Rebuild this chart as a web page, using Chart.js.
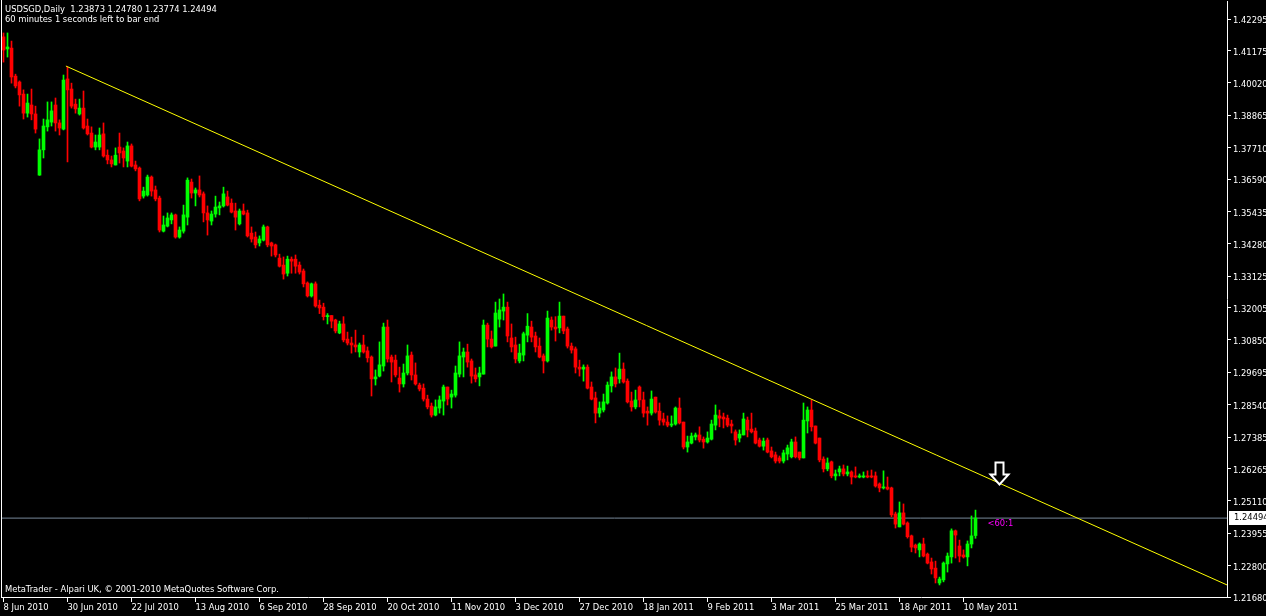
<!DOCTYPE html>
<html>
<head>
<meta charset="utf-8">
<title>USDSGD,Daily</title>
<script src="https://cdn.jsdelivr.net/npm/chart.js@4.4.0/dist/chart.umd.min.js"></script>
<style>
  html, body { margin: 0; padding: 0; background: #000; overflow: hidden; }
</style>
</head>
<body>
<canvas id="chart" width="1266" height="616"></canvas>
<script>
// texts of the terminal window
const symbolTitle = "USDSGD,Daily";
const timerText = "60 minutes 1 seconds left to bar end";
const copyrightText = "MetaTrader - Alpari UK, \u00a9 2001-2010 MetaQuotes Software Corp.";
const timerLabel = "<60:1";

// daily bars, 8 Jun 2010 .. 13 May 2011
const opens = [
  1.4166,1.4123,1.4126,1.4026,1.4005,1.3962,1.3894,1.3923,1.3891,1.3673,1.3763,1.3845,
  1.3862,1.3923,1.3859,1.3837,1.4016,1.3980,1.3926,1.3891,1.3912,1.3848,1.3823,1.3773,
  1.3773,1.3820,1.3744,1.3727,1.3709,1.3773,1.3759,1.3723,1.3777,1.3709,1.3698,1.3598,
  1.3602,1.3666,1.3620,1.3591,1.3473,1.3491,1.3513,1.3531,1.3452,1.3473,1.3523,1.3648,
  1.3609,1.3620,1.3606,1.3538,1.3509,1.3534,1.3556,1.3563,1.3595,1.3573,1.3545,1.3499,
  1.3545,1.3538,1.3466,1.3452,1.3431,1.3441,1.3488,1.3431,1.3424,1.3377,1.3352,1.3323,
  1.3373,1.3373,1.3352,1.3331,1.3288,1.3242,1.3285,1.3209,1.3202,1.3168,1.3172,1.3156,
  1.3110,1.3142,1.3088,1.3074,1.3067,1.3042,1.3067,1.3046,1.3024,1.2946,1.2956,1.2992,
  1.3131,1.3024,1.3013,1.2949,1.2928,1.2967,1.3031,1.2960,1.2924,1.2913,1.2874,1.2849,
  1.2817,1.2842,1.2867,1.2917,1.2881,1.2888,1.2963,1.3024,1.3042,1.3010,1.2960,1.2953,
  1.2963,1.3138,1.3088,1.3063,1.3159,1.3188,1.3202,1.3092,1.3067,1.3010,1.3031,1.3102,
  1.3131,1.3099,1.3063,1.3028,1.3010,1.3156,1.3131,1.3128,1.3170,1.3124,1.3063,1.3053,
  1.2988,1.2981,1.2988,1.2917,1.2878,1.2824,1.2835,1.2860,1.2921,1.2953,1.2946,1.2981,
  1.2938,1.2867,1.2846,1.2917,1.2871,1.2831,1.2824,1.2881,1.2831,1.2803,1.2792,1.2781,
  1.2785,1.2842,1.2792,1.2703,1.2717,1.2739,1.2746,1.2731,1.2721,1.2731,1.2781,1.2814,
  1.2810,1.2806,1.2785,1.2757,1.2735,1.2746,1.2799,1.2767,1.2760,1.2728,1.2706,1.2728,
  1.2689,1.2675,1.2664,1.2653,1.2678,1.2668,1.2721,1.2685,1.2664,1.2796,1.2835,1.2778,
  1.2735,1.2660,1.2625,1.2650,1.2600,1.2614,1.2625,1.2607,1.2614,1.2600,1.2596,1.2596,
  1.2600,1.2600,1.2600,1.2571,1.2557,1.2560,1.2557,1.2464,1.2418,1.2468,1.2432,1.2386,
  1.2353,1.2336,1.2357,1.2321,1.2293,1.2271,1.2218,1.2229,1.2286,1.2311,1.2404,1.2350,
  1.2318,1.2311,1.2357,1.23873
];
const highs = [
  1.4180,1.4180,1.4151,1.4033,1.4009,1.3977,1.3962,1.3980,1.3919,1.3802,1.3873,1.3934,
  1.3934,1.3948,1.3870,1.4030,1.4059,1.4001,1.3944,1.3944,1.3973,1.3873,1.3845,1.3816,
  1.3841,1.3859,1.3763,1.3741,1.3770,1.3823,1.3770,1.3791,1.3784,1.3723,1.3702,1.3630,
  1.3673,1.3670,1.3634,1.3598,1.3527,1.3538,1.3538,1.3534,1.3488,1.3566,1.3663,1.3659,
  1.3627,1.3670,1.3613,1.3563,1.3545,1.3598,1.3577,1.3630,1.3616,1.3588,1.3573,1.3552,
  1.3570,1.3548,1.3488,1.3470,1.3456,1.3495,1.3491,1.3434,1.3427,1.3391,1.3381,1.3384,
  1.3381,1.3388,1.3363,1.3338,1.3292,1.3288,1.3292,1.3227,1.3216,1.3179,1.3172,1.3159,
  1.3152,1.3168,1.3113,1.3095,1.3120,1.3074,1.3102,1.3060,1.3028,1.2978,1.3078,1.3145,
  1.3156,1.3031,1.3031,1.2988,1.2999,1.3067,1.3042,1.3003,1.2931,1.2928,1.2888,1.2860,
  1.2871,1.2885,1.2924,1.2917,1.2906,1.2992,1.3078,1.3056,1.3070,1.3017,1.2985,1.2988,
  1.3156,1.3145,1.3117,1.3220,1.3231,1.3249,1.3220,1.3142,1.3095,1.3070,1.3113,1.3179,
  1.3152,1.3113,1.3092,1.3035,1.3188,1.3167,1.3168,1.3220,1.3170,1.3131,1.3074,1.3060,
  1.3013,1.2996,1.2996,1.2935,1.2899,1.2864,1.2892,1.2935,1.2971,1.2985,1.3038,1.3003,
  1.2946,1.2899,1.2906,1.2921,1.2899,1.2846,1.2903,1.2881,1.2860,1.2824,1.2814,1.2814,
  1.2846,1.2878,1.2792,1.2742,1.2753,1.2753,1.2775,1.2739,1.2757,1.2799,1.2853,1.2835,
  1.2824,1.2817,1.2799,1.2764,1.2764,1.2824,1.2810,1.2824,1.2771,1.2735,1.2735,1.2735,
  1.2703,1.2685,1.2671,1.2692,1.2710,1.2731,1.2739,1.2685,1.2860,1.2846,1.2871,1.2778,
  1.2735,1.2668,1.2664,1.2653,1.2621,1.2635,1.2639,1.2635,1.2618,1.2632,1.2607,1.2614,
  1.2618,1.2621,1.2614,1.2575,1.2618,1.2596,1.2560,1.2471,1.2507,1.2500,1.2436,1.2389,
  1.2357,1.2361,1.2378,1.2325,1.2307,1.2296,1.2239,1.2293,1.2325,1.2411,1.2407,1.2371,
  1.2336,1.2368,1.2457,1.24780
];
const lows = [
  1.4076,1.4094,1.4001,1.3984,1.3919,1.3873,1.3880,1.3870,1.3823,1.3672,1.3734,1.3830,
  1.3848,1.3830,1.3816,1.3834,1.3720,1.3912,1.3894,1.3887,1.3837,1.3816,1.3770,1.3763,
  1.3763,1.3737,1.3713,1.3702,1.3709,1.3716,1.3702,1.3702,1.3702,1.3688,1.3581,1.3591,
  1.3598,1.3598,1.3581,1.3470,1.3470,1.3488,1.3499,1.3448,1.3448,1.3466,1.3495,1.3591,
  1.3563,1.3595,1.3506,1.3459,1.3495,1.3523,1.3531,1.3559,1.3563,1.3538,1.3477,1.3495,
  1.3531,1.3452,1.3434,1.3413,1.3420,1.3438,1.3417,1.3384,1.3381,1.3345,1.3302,1.3313,
  1.3323,1.3323,1.3320,1.3274,1.3238,1.3238,1.3202,1.3179,1.3156,1.3142,1.3128,1.3110,
  1.3107,1.3078,1.3067,1.3038,1.3042,1.3024,1.3038,1.3006,1.2885,1.2924,1.2953,1.2974,
  1.3006,1.2935,1.2953,1.2899,1.2917,1.2960,1.2942,1.2924,1.2903,1.2867,1.2839,1.2810,
  1.2814,1.2824,1.2817,1.2853,1.2842,1.2881,1.2953,1.2953,1.2988,1.2931,1.2935,1.2921,
  1.2963,1.3060,1.3056,1.3063,1.3131,1.3156,1.3078,1.3042,1.3003,1.3003,1.3010,1.3078,
  1.3078,1.3042,1.3021,1.2967,1.3006,1.3120,1.3081,1.3110,1.3107,1.3056,1.3038,1.2967,
  1.2956,1.2938,1.2910,1.2871,1.2789,1.2810,1.2828,1.2856,1.2899,1.2917,1.2931,1.2931,
  1.2860,1.2831,1.2839,1.2846,1.2810,1.2781,1.2817,1.2824,1.2781,1.2781,1.2775,1.2775,
  1.2781,1.2785,1.2696,1.2685,1.2714,1.2728,1.2721,1.2699,1.2717,1.2728,1.2764,1.2775,
  1.2771,1.2775,1.2753,1.2710,1.2721,1.2746,1.2739,1.2753,1.2714,1.2703,1.2692,1.2682,
  1.2664,1.2646,1.2646,1.2646,1.2657,1.2664,1.2664,1.2657,1.2664,1.2753,1.2760,1.2714,
  1.2650,1.2614,1.2618,1.2593,1.2585,1.2600,1.2600,1.2600,1.2571,1.2593,1.2593,1.2593,
  1.2593,1.2593,1.2560,1.2543,1.2553,1.2550,1.2454,1.2414,1.2418,1.2425,1.2378,1.2329,
  1.2325,1.2311,1.2311,1.2286,1.2250,1.2218,1.2211,1.2222,1.2257,1.2289,1.2307,1.2293,
  1.2307,1.2279,1.2343,1.23774
];
const closes = [
  1.4119,1.4130,1.4023,1.3991,1.3959,1.3894,1.3930,1.3891,1.3837,1.3763,1.3848,1.3870,
  1.3902,1.3859,1.3841,1.4012,1.3977,1.3919,1.3909,1.3912,1.3841,1.3820,1.3773,1.3791,
  1.3816,1.3741,1.3727,1.3713,1.3744,1.3752,1.3734,1.3777,1.3705,1.3695,1.3588,1.3616,
  1.3666,1.3616,1.3588,1.3477,1.3495,1.3520,1.3531,1.3452,1.3477,1.3531,1.3655,1.3609,
  1.3620,1.3602,1.3538,1.3513,1.3534,1.3559,1.3563,1.3606,1.3566,1.3541,1.3523,1.3545,
  1.3534,1.3456,1.3445,1.3424,1.3445,1.3488,1.3424,1.3420,1.3388,1.3348,1.3320,1.3373,
  1.3366,1.3348,1.3327,1.3285,1.3242,1.3285,1.3206,1.3199,1.3168,1.3172,1.3152,1.3117,
  1.3142,1.3085,1.3074,1.3067,1.3060,1.3067,1.3042,1.3021,1.2946,1.2953,1.2996,1.3131,
  1.3017,1.3006,1.2960,1.2928,1.2967,1.3028,1.2960,1.2928,1.2910,1.2874,1.2846,1.2817,
  1.2846,1.2871,1.2917,1.2874,1.2892,1.2967,1.3028,1.3042,1.3006,1.2956,1.2946,1.2967,
  1.3138,1.3088,1.3060,1.3181,1.3192,1.3202,1.3099,1.3060,1.3017,1.3038,1.3107,1.3134,
  1.3095,1.3060,1.3024,1.3010,1.3163,1.3131,1.3124,1.3170,1.3117,1.3063,1.3049,1.2988,
  1.2981,1.2988,1.2913,1.2874,1.2824,1.2842,1.2864,1.2924,1.2953,1.2928,1.2981,1.2935,
  1.2864,1.2846,1.2871,1.2871,1.2824,1.2824,1.2874,1.2828,1.2799,1.2792,1.2781,1.2785,
  1.2842,1.2789,1.2703,1.2721,1.2742,1.2746,1.2728,1.2721,1.2735,1.2785,1.2817,1.2806,
  1.2803,1.2781,1.2778,1.2728,1.2749,1.2803,1.2764,1.2757,1.2717,1.2706,1.2724,1.2685,
  1.2668,1.2653,1.2653,1.2682,1.2700,1.2721,1.2668,1.2664,1.2799,1.2835,1.2775,1.2717,
  1.2657,1.2625,1.2646,1.2600,1.2607,1.2625,1.2607,1.2614,1.2596,1.2596,1.2600,1.2600,
  1.2596,1.2596,1.2564,1.2557,1.2560,1.2553,1.2461,1.2428,1.2468,1.2428,1.2383,1.2346,
  1.2343,1.2357,1.2314,1.2289,1.2268,1.2236,1.2232,1.2289,1.2314,1.2404,1.2389,1.2314,
  1.2311,1.2357,1.2386,1.24494
];

// time axis: one label every 16 bars
const dateTicks = [0, 16, 32, 48, 64, 80, 96, 112, 128, 144, 160, 176, 192, 208, 224, 240];
const dateLabels = ["8 Jun 2010", "30 Jun 2010", "22 Jul 2010", "13 Aug 2010", "6 Sep 2010",
  "28 Sep 2010", "20 Oct 2010", "11 Nov 2010", "3 Dec 2010", "27 Dec 2010", "18 Jan 2011",
  "9 Feb 2011", "3 Mar 2011", "25 Mar 2011", "18 Apr 2011", "10 May 2011"];

// price axis labels
const priceTicks = [1.42295, 1.41175, 1.40020, 1.38865, 1.37710, 1.36590, 1.35435, 1.34280,
  1.33125, 1.32005, 1.30850, 1.29695, 1.28540, 1.27385, 1.26265, 1.25110, 1.23955, 1.22800, 1.21680];

// trend line (bar, price) and arrow / timer objects
const trendBars = [15.6, 305.875];
const trendPrices = [1.4062, 1.2211];
const arrowBar = 248.9;
const arrowPrice = 1.26495;
const timerBar = 246;

const X_MIN = -0.375, X_MAX = 305.875;
const Y_MIN = 1.2168, Y_MAX = 1.4294;
const FONT = "DejaVu Sans";
const FONT_SIZE = 8.4;

const lastClose = closes[closes.length - 1];
const candleColor = ctx => closes[ctx.dataIndex] >= opens[ctx.dataIndex] ? '#00ff00' : '#ff0000';

// рамка, заголовок, метки
const mtOverlay = {
  id: 'mtOverlay',
  beforeDraw(chart) {
    const c = chart.ctx;
    c.save();
    c.fillStyle = '#000';
    c.fillRect(0, 0, chart.width, chart.height);
    c.restore();
  },
  afterDraw(chart) {
    const c = chart.ctx;
    const { chartArea, scales: { x, y } } = chart;
    c.save();
    // left frame
    c.strokeStyle = '#fff';
    c.lineWidth = 1;
    c.beginPath();
    c.moveTo(1.5, 0);
    c.lineTo(1.5, chartArea.bottom + 1);
    c.stroke();

    c.font = FONT_SIZE + 'px "' + FONT + '"';
    c.textBaseline = 'middle';
    c.textAlign = 'left';
    c.fillStyle = '#fff';
    const n = closes.length - 1;
    const ohlc = [opens[n], highs[n], lows[n], closes[n]].map(v => v.toFixed(5)).join(' ');
    c.fillText(symbolTitle + '  ' + ohlc, 5, 10);
    c.fillText(timerText, 5, 20);
    c.fillText(copyrightText, 5, 590);

    // current price label
    const py = Math.round(y.getPixelForValue(lastClose));
    c.fillStyle = '#fff';
    c.fillRect(chartArea.right + 2, py - 7, 40, 14);
    c.fillStyle = '#000';
    c.fillText(lastClose.toFixed(5), chartArea.right + 7, py);

    // timer text
    c.fillStyle = '#ff00ff';
    c.fillText(timerLabel, x.getPixelForValue(timerBar), py + 6);

    // arrow
    const ax = Math.round(x.getPixelForValue(arrowBar)) + 0.5;
    const ay = Math.round(y.getPixelForValue(arrowPrice)) + 0.5;
    c.beginPath();
    c.moveTo(ax - 4, ay);
    c.lineTo(ax + 4, ay);
    c.lineTo(ax + 4, ay + 12);
    c.lineTo(ax + 9, ay + 12);
    c.lineTo(ax, ay + 22);
    c.lineTo(ax - 9, ay + 12);
    c.lineTo(ax - 4, ay + 12);
    c.closePath();
    c.fillStyle = '#000';
    c.fill();
    c.strokeStyle = '#fff';
    c.lineWidth = 2;
    c.stroke();
    c.restore();
  }
};

const bodyData = opens.map((o, i) => ({ x: i, y: [o, closes[i]] }));
const wickData = lows.map((l, i) => ({ x: i, y: [l, highs[i]] }));

new Chart(document.getElementById('chart'), {
  type: 'bar',
  data: {
    datasets: [
      {
        type: 'line', label: 'bid',
        data: [{ x: X_MIN, y: lastClose }, { x: X_MAX, y: lastClose }],
        borderColor: '#778899', borderWidth: 1, pointRadius: 0, order: 3
      },
      {
        label: 'wick', data: wickData, backgroundColor: candleColor,
        barThickness: 1, grouped: false, minBarLength: 1, borderWidth: 0, order: 2
      },
      {
        label: 'body', data: bodyData, backgroundColor: candleColor,
        barThickness: 3, grouped: false, minBarLength: 1, borderWidth: 0, order: 1
      },
      {
        type: 'line', label: 'trend',
        data: trendBars.map((b, i) => ({ x: b, y: trendPrices[i] })),
        borderColor: '#ffff00', borderWidth: 1, pointRadius: 0, order: 0
      }
    ]
  },
  options: {
    responsive: false,
    animation: false,
    devicePixelRatio: 1,
    layout: { padding: { left: 2, top: 1, right: 0, bottom: 0 } },
    plugins: { legend: { display: false }, tooltip: { enabled: false }, title: { display: false } },
    scales: {
      x: {
        type: 'linear', min: X_MIN, max: X_MAX, offset: false,
        afterBuildTicks: s => { s.ticks = dateTicks.map(v => ({ value: v })); },
        afterFit: s => { s.height = 19; s.paddingLeft = 0; s.paddingRight = 0; },
        ticks: {
          autoSkip: false, maxRotation: 0, minRotation: 0, align: 'start', padding: 1,
          color: '#fff', font: { family: FONT, size: FONT_SIZE },
          callback: v => dateLabels[dateTicks.indexOf(v)]
        },
        grid: { offset: false, drawOnChartArea: false, drawTicks: true, tickLength: 5, color: '#fff' },
        border: { display: true, color: '#fff', width: 1 }
      },
      y: {
        type: 'linear', position: 'right', min: Y_MIN, max: Y_MAX, beginAtZero: false,
        afterBuildTicks: s => { s.ticks = priceTicks.map(v => ({ value: v })); },
        afterFit: s => { s.width = 39; s.paddingTop = 0; s.paddingBottom = 0; },
        ticks: {
          autoSkip: false, padding: 2, labelOffset: 2, color: '#fff', font: { family: FONT, size: FONT_SIZE },
          callback: v => v.toFixed(5)
        },
        grid: { drawOnChartArea: false, drawTicks: true, tickLength: 4, color: '#fff' },
        border: { display: true, color: '#fff', width: 1 }
      }
    }
  },
  plugins: [mtOverlay]
});
</script>
</body>
</html>
